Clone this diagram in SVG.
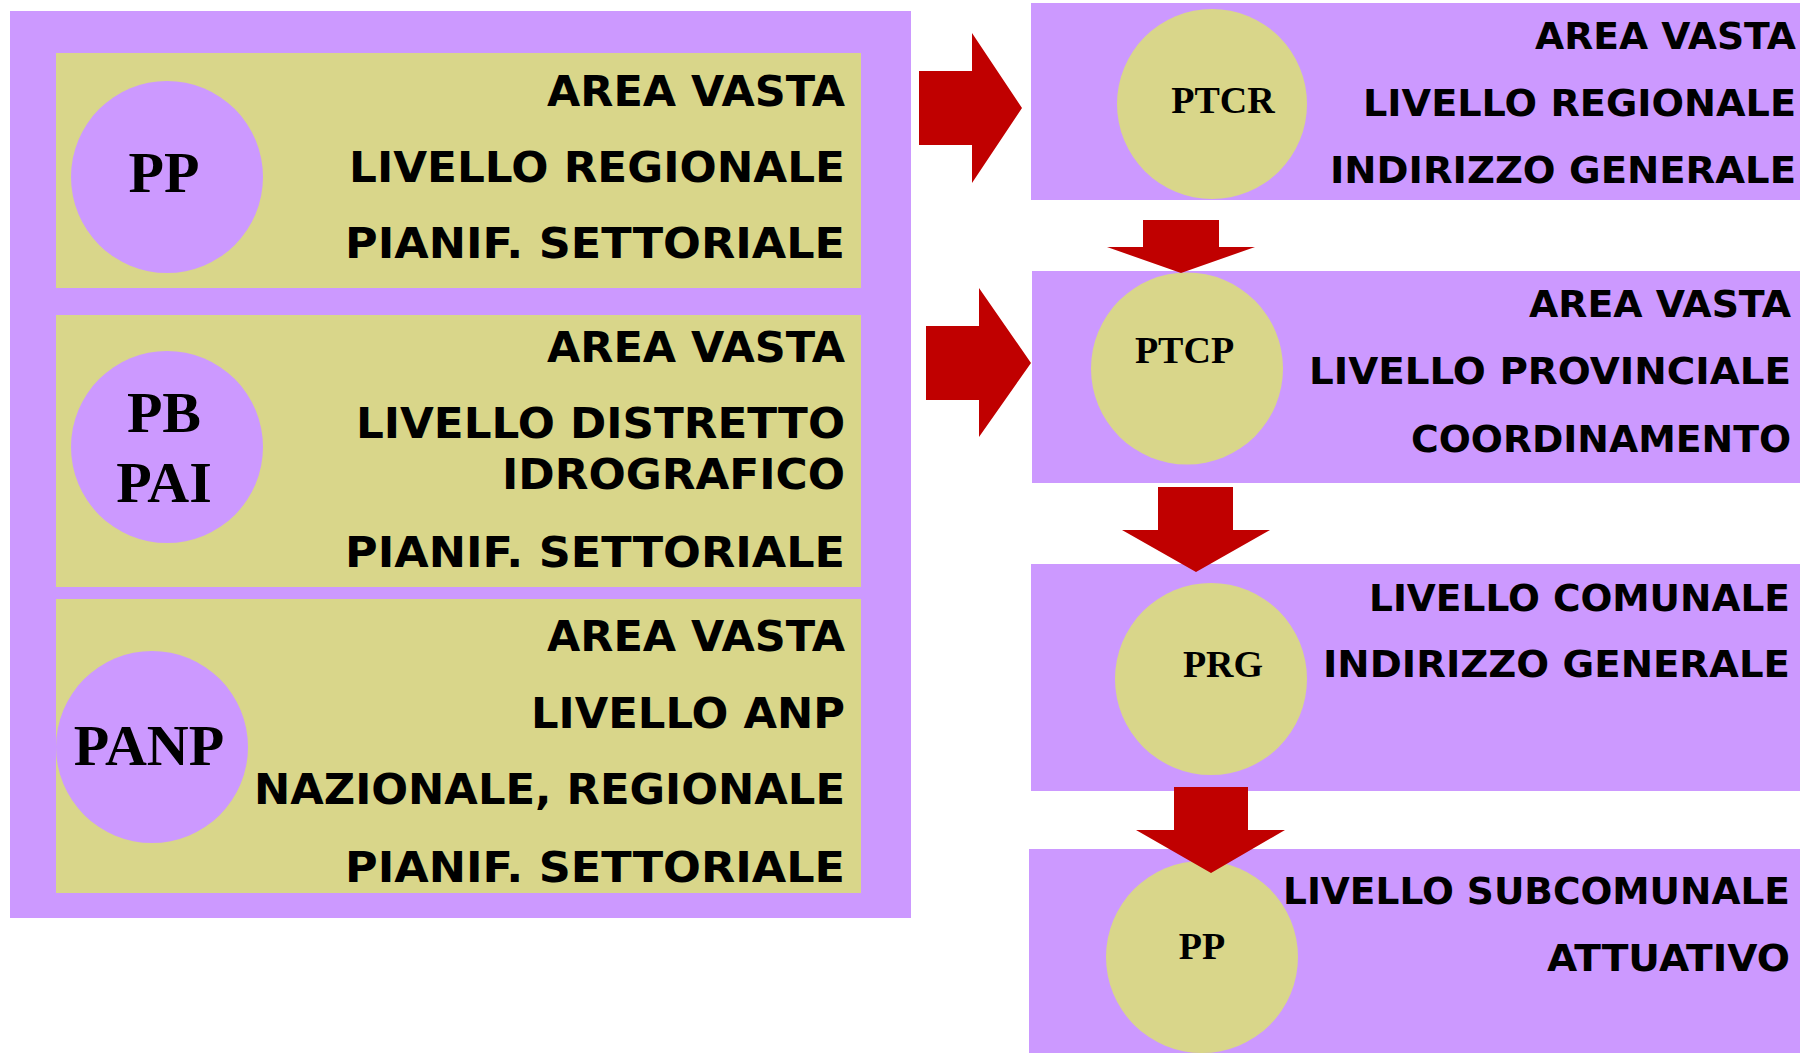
<svg xmlns="http://www.w3.org/2000/svg" width="1800" height="1053" viewBox="0 0 1800 1053">
<style>
.pur{fill:#CC99FF}
.yel{fill:#D9D68A}
.arr{fill:#C00000}
.lbl{font-family:"DejaVu Sans","Verdana",sans-serif;font-weight:bold;fill:#000;text-anchor:end}
.big{font-size:42px}
.med{font-size:37px}
.code{font-family:"Liberation Serif","Times New Roman",serif;font-weight:bold;fill:#000;text-anchor:middle}
.cb{font-size:58px}
.cs{font-size:38px}
</style>
<rect width="1800" height="1053" fill="#FFFFFF"/>
<g id="left-panel">
<rect class="pur" x="10" y="11" width="901" height="907"/>
</g>
<g id="node-pp-left">
<rect class="yel" x="56" y="53" width="805" height="235"/>
<circle class="pur" cx="167" cy="177" r="96"/>
<text class="code cb" x="164" y="192">PP</text>
<text class="lbl big" x="845" y="106" textLength="298" lengthAdjust="spacingAndGlyphs">AREA VASTA</text>
<text class="lbl big" x="845" y="182" textLength="496" lengthAdjust="spacingAndGlyphs">LIVELLO REGIONALE</text>
<text class="lbl big" x="845" y="258" textLength="500" lengthAdjust="spacingAndGlyphs">PIANIF. SETTORIALE</text>
</g>
<g id="node-pb-pai">
<rect class="yel" x="56" y="315" width="805" height="272"/>
<circle class="pur" cx="167" cy="447" r="96"/>
<text class="code cb" x="164" y="432">PB</text>
<text class="code cb" x="164" y="502">PAI</text>
<text class="lbl big" x="845" y="362" textLength="298" lengthAdjust="spacingAndGlyphs">AREA VASTA</text>
<text class="lbl big" x="845" y="438" textLength="489" lengthAdjust="spacingAndGlyphs">LIVELLO DISTRETTO</text>
<text class="lbl big" x="845" y="489" textLength="343" lengthAdjust="spacingAndGlyphs">IDROGRAFICO</text>
<text class="lbl big" x="845" y="567" textLength="500" lengthAdjust="spacingAndGlyphs">PIANIF. SETTORIALE</text>
</g>
<g id="node-panp">
<rect class="yel" x="56" y="599" width="805" height="294"/>
<circle class="pur" cx="152" cy="747" r="96"/>
<text class="code cb" x="149" y="765">PANP</text>
<text class="lbl big" x="845" y="651" textLength="298" lengthAdjust="spacingAndGlyphs">AREA VASTA</text>
<text class="lbl big" x="845" y="728" textLength="314" lengthAdjust="spacingAndGlyphs">LIVELLO ANP</text>
<text class="lbl big" x="845" y="804" textLength="591" lengthAdjust="spacingAndGlyphs">NAZIONALE, REGIONALE</text>
<text class="lbl big" x="845" y="882" textLength="500" lengthAdjust="spacingAndGlyphs">PIANIF. SETTORIALE</text>
</g>
<g id="node-ptcr">
<rect class="pur" x="1031" y="3" width="769" height="197"/>
<circle class="yel" cx="1212" cy="104" r="95"/>
<text class="code cs" x="1223" y="113">PTCR</text>
<text class="lbl med" x="1796" y="49" textLength="261" lengthAdjust="spacingAndGlyphs">AREA VASTA</text>
<text class="lbl med" x="1796" y="116" textLength="433" lengthAdjust="spacingAndGlyphs">LIVELLO REGIONALE</text>
<text class="lbl med" x="1796" y="183" textLength="466" lengthAdjust="spacingAndGlyphs">INDIRIZZO GENERALE</text>
</g>
<g id="node-ptcp">
<rect class="pur" x="1032" y="271" width="768" height="212"/>
<circle class="yel" cx="1187" cy="368.5" r="96"/>
<text class="code cs" x="1184.5" y="363">PTCP</text>
<text class="lbl med" x="1791" y="317" textLength="262" lengthAdjust="spacingAndGlyphs">AREA VASTA</text>
<text class="lbl med" x="1791" y="384" textLength="482" lengthAdjust="spacingAndGlyphs">LIVELLO PROVINCIALE</text>
<text class="lbl med" x="1791" y="452" textLength="380" lengthAdjust="spacingAndGlyphs">COORDINAMENTO</text>
</g>
<g id="node-prg">
<rect class="pur" x="1031" y="564" width="769" height="227"/>
<circle class="yel" cx="1211" cy="679" r="96"/>
<text class="code cs" x="1223" y="677">PRG</text>
<text class="lbl med" x="1790" y="610.5" textLength="421" lengthAdjust="spacingAndGlyphs">LIVELLO COMUNALE</text>
<text class="lbl med" x="1790" y="677" textLength="467" lengthAdjust="spacingAndGlyphs">INDIRIZZO GENERALE</text>
</g>
<g id="node-pp-right">
<rect class="pur" x="1029" y="849" width="771" height="204"/>
<circle class="yel" cx="1202" cy="957" r="96"/>
<text class="code cs" x="1202" y="959">PP</text>
<text class="lbl med" x="1790" y="904" textLength="507" lengthAdjust="spacingAndGlyphs">LIVELLO SUBCOMUNALE</text>
<text class="lbl med" x="1790" y="971" textLength="243" lengthAdjust="spacingAndGlyphs">ATTUATIVO</text>
</g>
<g id="connectors">
<polygon class="arr" points="919,71 972,71 972,33 1022,108 972,183 972,145 919,145"/>
<polygon class="arr" points="926,326 979,326 979,288 1031,363 979,437 979,400 926,400"/>
<polygon class="arr" points="1143,220 1219,220 1219,247 1255,247 1181,273 1107,247 1143,247"/>
<polygon class="arr" points="1158,487 1233,487 1233,530 1270,530 1196,572 1122,530 1158,530"/>
<polygon class="arr" points="1174,787 1248,787 1248,830 1285,830 1211,873 1136,830 1174,830"/>
</g>
</svg>
